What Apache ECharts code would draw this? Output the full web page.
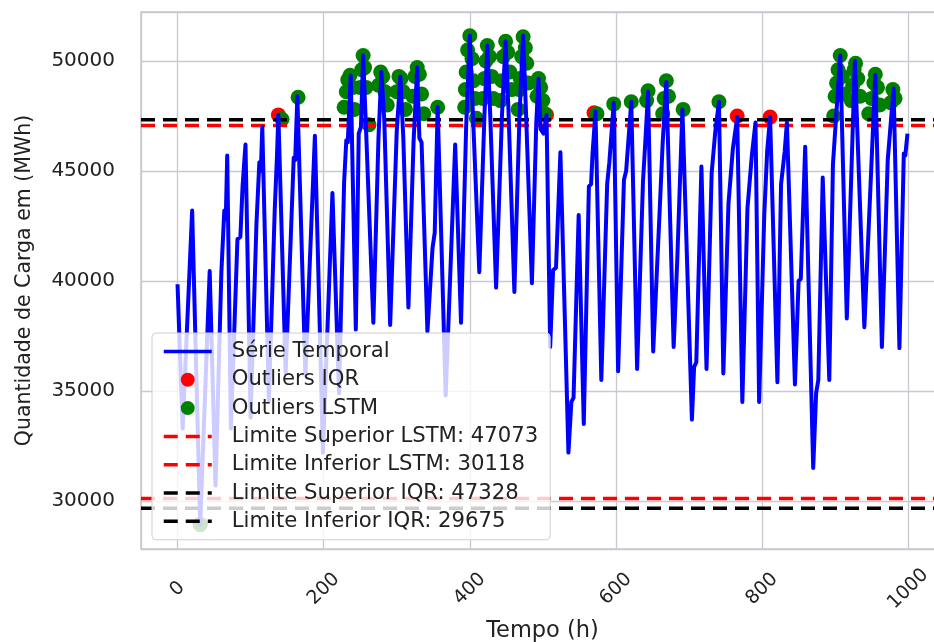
<!DOCTYPE html>
<html>
<head>
<meta charset="utf-8">
<script src="https://cdn.jsdelivr.net/npm/echarts@6.0.0/dist/echarts.min.js"></script>
<style>
  html, body { margin: 0; padding: 0; background: #fff; overflow: hidden; }
  /* plot runs past the right edge of the window, as in the source image */
  #chart { width: 944px; height: 642px; }
</style>
</head>
<body>
<div id="chart"></div>
<script>
// hourly load, turning points (x = hour, y = MWh)
const hours = [
  0, 7, 20, 31, 44, 52, 60, 64, 66, 68, 73, 82, 86, 89, 93, 100, 108, 112, 114, 116,
  125, 133, 136, 138, 148, 155, 159, 161, 164, 175, 180, 188, 199, 212, 221, 228, 231, 233, 237, 244,
  248, 251, 254, 258, 268, 275, 279, 283, 291, 300, 305, 309, 316, 323, 328, 331, 334, 342, 349, 352,
  356, 367, 380, 388, 395, 400, 405, 413, 420, 424, 428, 436, 444, 449, 453, 461, 468, 473, 477, 485,
  491, 494, 497, 501, 505, 510, 514, 518, 524, 535, 539, 542, 549, 556, 563, 566, 568, 572, 580, 588,
  591, 597, 603, 611, 614, 621, 629, 637, 640, 644, 651, 660, 664, 669, 679, 684, 691, 704, 707, 710,
  717, 724, 731, 736, 741, 747, 754, 760, 766, 773, 780, 786, 791, 796, 803, 807, 811, 821, 826, 831,
  834, 845, 850, 853, 859, 870, 874, 877, 883, 892, 897, 907, 916, 927, 940, 955, 964, 972, 980, 988,
  994, 996, 999
];
const load = [
  39850, 33300, 43200, 28930, 40450, 30700, 40400, 43200, 42800, 45700, 33300, 41900, 42000, 44300, 46200, 33800, 42600, 45400, 45000, 47000,
  34500, 43200, 45600, 47550, 35800, 42000, 45600, 45500, 48400, 35700, 40000, 46600, 32200, 44000, 34900, 44500, 46400, 46300, 49350, 37800,
  46700, 47000, 50250, 46900, 38100, 46500, 49500, 47300, 38000, 46800, 49300, 46500, 38800, 46300, 49700, 46500, 46300, 37700, 41500, 42200,
  47900, 34800, 46200, 38100, 47000, 51150, 47000, 40400, 47500, 50700, 47500, 39700, 47500, 50900, 47700, 39500, 47500, 51150, 47600, 39900,
  47200, 49200, 46900, 46700, 47550, 37000, 40500, 40600, 45850, 32200, 34500, 34700, 43000, 33500, 44300, 44400, 45800, 47700, 35500, 44400,
  45400, 48100, 35900, 44600, 45000, 48150, 36000, 44500, 46200, 48600, 36800, 43300, 46300, 49050, 37000, 41000, 47800, 33700, 36100, 36300,
  45200, 36000, 44900, 46800, 48150, 35800, 43500, 46000, 47450, 34500, 43300, 45700, 47200, 34500, 43000, 45900, 47450, 35400, 44400, 45900,
  47200, 35300, 40000, 40100, 46100, 31500, 34900, 35500, 44700, 35500, 45300, 50250, 38300, 50000, 37900, 49350, 37000, 45500, 48750, 36950,
  45800, 45700, 46700
];

// outliers flagged by the IQR rule (red) and by the LSTM model (green)
const iqrHours = [31, 138, 505, 570, 766, 811];
const iqrLoad = [28930, 47550, 47550, 47650, 47500, 47450];

const lstmHours = [
  31, 143, 165,
  228, 231, 233, 236, 240, 242, 250, 252, 254, 256, 258, 262,
  275, 278, 281, 284, 287, 300, 303, 306, 309, 312,
  322, 325, 328, 331, 334, 337, 356,
  393, 394, 395, 397, 400, 403, 405, 407, 409,
  418, 420, 422, 424, 427, 430, 432,
  442, 444, 446, 449, 452, 455, 457,
  466, 468, 469, 471, 473, 476, 478, 480,
  492, 494, 497, 500, 503,
  574, 597, 621, 642, 644, 664, 666, 669, 672, 692, 741,
  898, 900, 902, 904, 907, 910, 912,
  922, 924, 926, 928, 931, 934,
  946, 950, 953, 955, 958, 961,
  976, 979, 982
];
const lstmLoad = [
  28930, 47350, 48350,
  47900, 48600, 49150, 49350, 48800, 47800, 48800, 49600, 50250, 49700, 48800, 47100,
  48900, 49500, 49300, 48600, 48000, 48600, 49300, 49200, 48600, 47800,
  48400, 49300, 49700, 49400, 48500, 47600, 47900,
  47900, 48700, 49500, 50500, 51150, 50100, 49100, 48300, 47400,
  48300, 49200, 50000, 50700, 50200, 49300, 48300,
  48200, 49100, 50200, 50900, 50400, 49500, 48700,
  47800, 48700, 49200, 50200, 51100, 50600, 49900, 49000,
  48400, 49200, 48800, 48200, 47600,
  47600, 48050, 48150, 48200, 48650, 47600, 48300, 49100, 48400, 47800, 48150,
  47500, 48400, 49000, 49600, 50250, 49300, 48500,
  48200, 48900, 49600, 49900, 49200, 48400,
  47600, 48300, 49000, 49400, 48800, 48000,
  48100, 48700, 48300
];

const lstmUpper = 47073;
const lstmLower = 30118;
const iqrUpper = 47328;
const iqrLower = 29675;

// axis extents (matplotlib auto margins)
const xMin = -50, xMax = 1049;
const yMin = 27818, yMax = 52227;

const FONT = "DejaVu Sans";
const TEXT = "#222222";
const GRID = "#c9c9d1";

const zip = (xs, ys) => xs.map((x, i) => [x, ys[i]]);
const hline = (v) => [[xMin, v], [xMax, v]];

const limitSeries = (name, value, color) => ({
  name: name,
  type: "line",
  data: hline(value),
  symbol: "none",
  silent: true,
  lineStyle: { color: color, width: 3.5, type: [14, 8] },
  itemStyle: { color: color },
  z: 3,
});

const names = {
  serie: "Série Temporal",
  iqr: "Outliers IQR",
  lstm: "Outliers LSTM",
  supLstm: `Limite Superior LSTM: ${lstmUpper}`,
  infLstm: `Limite Inferior LSTM: ${lstmLower}`,
  supIqr: `Limite Superior IQR: ${iqrUpper}`,
  infIqr: `Limite Inferior IQR: ${iqrLower}`,
};

const chart = echarts.init(document.getElementById("chart"), null, { renderer: "canvas" });

const hideSymbol = { itemStyle: { opacity: 0 } };

chart.setOption({
  animation: false,
  backgroundColor: "#ffffff",
  grid: {
    left: 141, top: 12, right: 0, bottom: 93,
    outerBoundsMode: "none", containLabel: false,
    show: true, borderColor: "#c4c4cc", borderWidth: 1.5, backgroundColor: "transparent",
  },
  xAxis: {
    type: "value", min: xMin, max: xMax, splitNumber: 5,
    axisLine: { show: false }, axisTick: { show: false },
    splitLine: { show: true, lineStyle: { color: GRID, width: 1.3 } },
    axisLabel: {
      rotate: 45, align: "center", verticalAlign: "middle", margin: 40,
      fontSize: 19, fontFamily: FONT, color: TEXT,
      formatter: (v) => (v % 200 === 0 ? String(v) : ""),
    },
    name: "Tempo (h)", nameLocation: "middle", nameGap: 70,
    nameTextStyle: { fontSize: 22.5, fontFamily: FONT, color: TEXT },
  },
  yAxis: {
    type: "value", min: yMin, max: yMax, splitNumber: 5,
    axisLine: { show: false }, axisTick: { show: false },
    splitLine: { show: true, lineStyle: { color: GRID, width: 1.3 } },
    axisLabel: {
      margin: 26, fontSize: 20, fontFamily: FONT, color: TEXT,
      formatter: (v) => (v % 5000 === 0 ? String(v) : ""),
    },
    name: "Quantidade de Carga em (MWh)", nameLocation: "middle", nameGap: 106,
    nameTextStyle: { fontSize: 20.5, fontFamily: FONT, color: TEXT },
  },
  legend: {
    z: 20,
    orient: "vertical", left: 152, top: 333,
    padding: [8, 12, 8, 10],
    itemWidth: 48, itemHeight: 14, itemGap: 7.3,
    backgroundColor: "rgba(255,255,255,0.8)",
    borderColor: "#cfcfcf", borderWidth: 1, borderRadius: 4,
    selectedMode: false,
    lineStyle: { width: 3.5 },
    textStyle: { fontSize: 21.2, fontFamily: FONT, color: TEXT, padding: [0, 0, 0, 15] },
    data: [
      Object.assign({ name: names.serie }, hideSymbol),
      { name: names.iqr, icon: "circle" },
      { name: names.lstm, icon: "circle" },
      Object.assign({ name: names.supLstm }, hideSymbol),
      Object.assign({ name: names.infLstm }, hideSymbol),
      Object.assign({ name: names.supIqr }, hideSymbol),
      Object.assign({ name: names.infIqr }, hideSymbol),
    ],
  },
  series: [
    {
      name: names.iqr, type: "scatter", data: zip(iqrHours, iqrLoad),
      symbol: "circle", symbolSize: 15, itemStyle: { color: "#ff0000", opacity: 1 }, z: 2,
    },
    {
      name: names.lstm, type: "scatter", data: zip(lstmHours, lstmLoad),
      symbol: "circle", symbolSize: 15, itemStyle: { color: "#008000", opacity: 1 }, z: 2,
    },
    limitSeries(names.supLstm, lstmUpper, "#ff0000"),
    limitSeries(names.infLstm, lstmLower, "#ff0000"),
    limitSeries(names.supIqr, iqrUpper, "#000000"),
    limitSeries(names.infIqr, iqrLower, "#000000"),
    {
      name: names.serie, type: "line", data: zip(hours, load),
      symbol: "none", silent: true,
      lineStyle: { color: "#0000ff", width: 4, join: "round" },
      itemStyle: { color: "#0000ff" }, z: 4,
    },
  ],
});
</script>
</body>
</html>
